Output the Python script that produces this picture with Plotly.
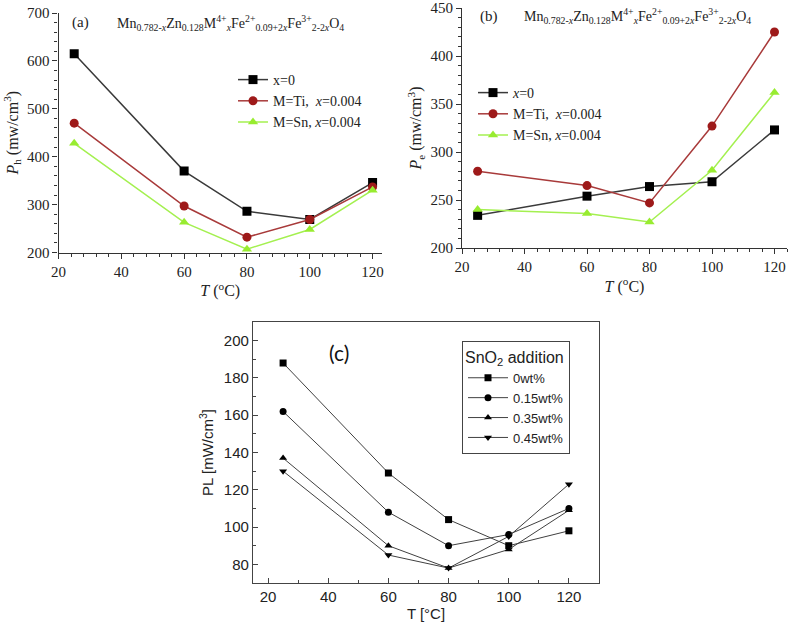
import plotly.graph_objects as go

# ---------------- data ----------------
T = [25, 60, 80, 100, 120]

# panel (a): hysteresis loss Ph
a_labels = ["x=0", "M=Ti,  <i>x</i>=0.004", "M=Sn, <i>x</i>=0.004"]
a_x0 = [615, 370, 286, 269, 346]
a_ti = [470, 297, 232, 269, 337]
a_sn = [428, 263, 207, 248, 330]

# panel (b): eddy current loss Pe
b_labels = ["<i>x</i>=0", "M=Ti,  <i>x</i>=0.004", "M=Sn, <i>x</i>=0.004"]
b_x0 = [234, 254, 264, 269, 323]
b_ti = [280, 265, 247, 327, 425]
b_sn = [240, 236, 227, 281, 362]

# panel (c): PL vs SnO2 addition
c_labels = ["0wt%", "0.15wt%", "0.35wt%", "0.45wt%"]
c_0 = [188, 129, 104, 90, 98]
c_15 = [162, 108, 90, 96, 110]
c_35 = [137, 90, 78, 88, 109]
c_45 = [130, 85, 78, 95, 123]

W, H = 790, 624
def px(x): return x / W
def py(y): return 1 - y / H

SERIF = "Liberation Serif"
SANS = "Liberation Sans"

fig = go.Figure()

colors = [("#3a3a3a", "#000000"), ("#a83a3a", "#9e1a1a"), ("#a4f050", "#98ec30")]
symbols = ["square", "circle", "triangle-up"]

for ys, lab, (lc, mc), sym in zip([a_x0, a_ti, a_sn], a_labels, colors, symbols):
    fig.add_trace(go.Scatter(x=T, y=ys, name=lab, mode="lines+markers",
                             line=dict(color=lc, width=1.5),
                             marker=dict(symbol=sym, size=9, color=mc),
                             xaxis="x", yaxis="y", legend="legend"))
for ys, lab, (lc, mc), sym in zip([b_x0, b_ti, b_sn], b_labels, colors, symbols):
    fig.add_trace(go.Scatter(x=T, y=ys, name=lab, mode="lines+markers",
                             line=dict(color=lc, width=1.5),
                             marker=dict(symbol=sym, size=9, color=mc),
                             xaxis="x2", yaxis="y2", legend="legend2"))
c_symbols = ["square", "circle", "triangle-up", "triangle-down"]
for ys, lab, sym in zip([c_0, c_15, c_35, c_45], c_labels, c_symbols):
    fig.add_trace(go.Scatter(x=T, y=ys, name=lab, mode="lines+markers",
                             line=dict(color="#404040", width=1),
                             marker=dict(symbol=sym, size=7, color="#000000"),
                             xaxis="x3", yaxis="y3", legend="legend3"))

serif_axis = dict(showline=True, linecolor="#333", linewidth=1.2, ticks="outside",
                  ticklen=5, tickcolor="#333", showgrid=False, zeroline=False,
                  automargin=False,
                  tickfont=dict(family=SERIF, size=15, color="#222"))

fig.update_layout(
    width=W, height=H, margin=dict(l=0, r=0, t=0, b=0, autoexpand=False),
    paper_bgcolor="white", plot_bgcolor="white",
    xaxis=dict(serif_axis, domain=[px(58.5), px(382)], range=[20, 123], anchor="y",
               dtick=20, tick0=20, minor=dict(dtick=4, ticks="outside", ticklen=3, tickcolor="#333"),
               title=dict(text="<i>T</i> (<sup>o</sup>C)", font=dict(family=SERIF, size=16, color="#222"), standoff=2)),
    yaxis=dict(serif_axis, domain=[py(252.5), py(13)], range=[200, 700], anchor="x",
               dtick=100, minor=dict(dtick=20, ticks="outside", ticklen=3, tickcolor="#333"),
               title=dict(text="<i>P</i><sub>h</sub> (mw/cm<sup>3</sup>)", font=dict(family=SERIF, size=16, color="#222"), standoff=4)),
    xaxis2=dict(serif_axis, domain=[px(462), px(787)], range=[20, 124], anchor="y2",
                dtick=20, tick0=20, minor=dict(dtick=4, ticks="outside", ticklen=3, tickcolor="#333"),
                title=dict(text="<i>T</i> (<sup>o</sup>C)", font=dict(family=SERIF, size=16, color="#222"), standoff=2)),
    yaxis2=dict(serif_axis, domain=[py(248), py(8)], range=[200, 450], anchor="x2",
                dtick=50, minor=dict(dtick=10, ticks="outside", ticklen=3, tickcolor="#333"),
                title=dict(text="<i>P</i><sub>e</sub> (mw/cm<sup>3</sup>)", font=dict(family=SERIF, size=16, color="#222"), standoff=4)),
    xaxis3=dict(domain=[px(253), px(599)], range=[15, 130], anchor="y3",
                showline=True, mirror=True, linecolor="#444", linewidth=1.2,
                ticks="inside", ticklen=5, tickcolor="#444", dtick=20, tick0=20,
                minor=dict(dtick=10, ticks="inside", ticklen=3, tickcolor="#444"),
                showgrid=False, zeroline=False, automargin=False,
                tickfont=dict(family=SANS, size=15, color="#222"),
                title=dict(text="T [°C]", font=dict(family=SANS, size=15, color="#222"), standoff=4)),
    yaxis3=dict(domain=[py(583), py(322)], range=[70, 210], anchor="x3",
                showline=True, mirror=True, linecolor="#444", linewidth=1.2,
                ticks="inside", ticklen=5, tickcolor="#444", dtick=20, tick0=0,
                minor=dict(dtick=10, ticks="inside", ticklen=3, tickcolor="#444"),
                showgrid=False, zeroline=False, automargin=False,
                tickfont=dict(family=SANS, size=15, color="#222"),
                title=dict(text="PL [mW/cm<sup>3</sup>]", font=dict(family=SANS, size=15, color="#222"), standoff=6)),
    legend=dict(x=px(233), y=py(64), xanchor="left", yanchor="top",
                bgcolor="rgba(0,0,0,0)", font=dict(family=SERIF, size=14, color="#222"),
                tracegroupgap=0, itemwidth=30),
    legend2=dict(x=px(473), y=py(77), xanchor="left", yanchor="top",
                 bgcolor="rgba(0,0,0,0)", font=dict(family=SERIF, size=14, color="#222"),
                 tracegroupgap=0, itemwidth=30),
    legend3=dict(x=px(462), y=py(341), xanchor="left", yanchor="top",
                 bgcolor="white", bordercolor="#444", borderwidth=1,
                 font=dict(family=SANS, size=13, color="#222"),
                 title=dict(text="SnO<sub>2</sub> addition", font=dict(family=SANS, size=16, color="#222")),
                 tracegroupgap=0, itemwidth=40),
    showlegend=True,
)

formula = ("Mn<sub>0.782-<i>x</i></sub>Zn<sub>0.128</sub>M<sup>4+</sup><sub><i>x</i></sub>"
           "Fe<sup>2+</sup><sub>0.09+2<i>x</i></sub>Fe<sup>3+</sup><sub>2-2<i>x</i></sub>O<sub>4</sub>")

annos = [
    dict(x=px(70), y=py(23), text="(a)", font=dict(family=SERIF, size=15, color="#222")),
    dict(x=px(115), y=py(23), text=formula, font=dict(family=SERIF, size=14, color="#222")),
    dict(x=px(478), y=py(16), text="(b)", font=dict(family=SERIF, size=15, color="#222")),
    dict(x=px(522), y=py(16), text=formula, font=dict(family=SERIF, size=14, color="#222")),
    dict(x=px(327), y=py(352), text="(c)", font=dict(family="Lato", size=21, color="#111")),
]
for a in annos:
    fig.add_annotation(xref="paper", yref="paper", xanchor="left", yanchor="middle",
                       showarrow=False, **a)

fig.write_html("out.html", config={"displayModeBar": False},
               post_script="document.body.style.margin='0';")
